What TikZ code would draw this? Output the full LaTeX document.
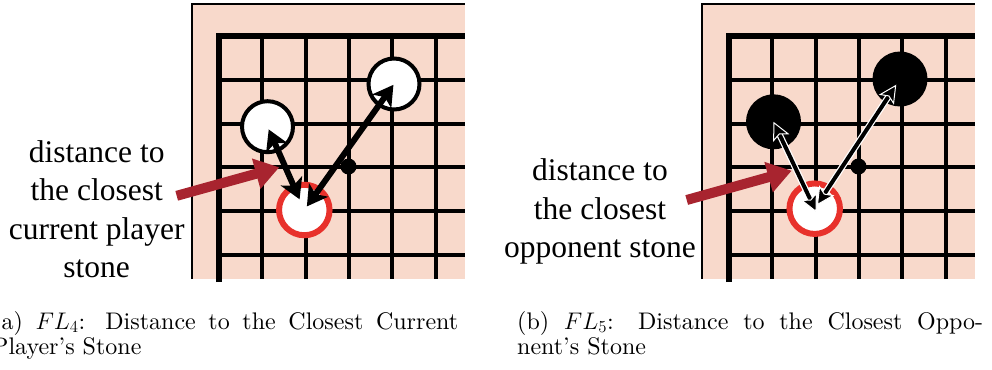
\RequirePackage{fix-cm}
\documentclass[tikz,border=0pt]{standalone}
\usepackage{fontspec}
\newfontfamily\labelfont{Liberation Serif}
\newfontfamily\capfont{lmroman10-regular.otf}[Ligatures=TeX]
\usepackage{tikz}
\usetikzlibrary{arrows.meta,calc}
\definecolor{boardpeach}{HTML}{F8D9CB}
\definecolor{ringred}{HTML}{E8312B}
\definecolor{pointred}{HTML}{A8242F}
\tikzset{
  go/board/.style={fill=boardpeach, draw=none},
  go/edge/.style={line width=1.5pt},
  go/border/.style={line width=6pt, line join=miter},
  go/line/.style={line width=4pt},
  go/white/.style={circle, draw, fill=white, line width=4pt, minimum size=51pt, inner sep=0pt},
  go/black/.style={circle, fill=black, minimum size=55pt, inner sep=0pt},
  go/current/.style={circle, draw=ringred, fill=white, line width=6pt, minimum size=50.5pt, inner sep=0pt},
  go/hoshi/.style={circle, fill=black, minimum size=16pt, inner sep=0pt},
  dist/.style={{Stealth[length=20pt,width=23pt,inset=5pt]}-{Stealth[length=20pt,width=23pt,inset=5pt]}, line width=6pt},
  dist/thin/.style={{Stealth[length=18pt,width=18pt,inset=4pt,color=white,fill=black,line width=1pt]}-{Stealth[length=18pt,width=18pt,inset=4pt,color=white,fill=black,line width=1pt]}, line width=4pt},
  dist/halo/.style 2 args={preaction={draw=white, line width=6.5pt, arrows=-, shorten <=#1, shorten >=#2}},
  pointer/.style={-{Triangle[length=24pt,width=30pt]}, line width=10pt, draw=pointred},
  lbl/.style={font=\labelfont\fontsize{31.5}{38.3}\selectfont, align=center, inner sep=0pt},
  subcap/.style={font=\capfont\fontsize{24}{25}\selectfont, inner sep=0pt, anchor=base west, text width=466pt, align=justify}
}

\begin{document}
\begin{tikzpicture}[x=1pt, y=-1pt]
  \useasboundingbox (0,0) rectangle (992,369);

  % the two board corners
  \foreach \dx in {0,510} {
    \fill[go/board] (192+\dx,4) rectangle (465+\dx,279);
    \draw[go/edge] (192+\dx,279) -- (192+\dx,4) -- (465+\dx,4);
    \foreach \k in {1,...,5} {
      \draw[go/line] ({219+43.3*\k+\dx},36) -- ({219+43.3*\k+\dx},279);
      \draw[go/line] (219+\dx,{36+43.8*\k}) -- (465+\dx,{36+43.8*\k});
    }
    \draw[go/border] (219+\dx,282) -- (219+\dx,36) -- (465+\dx,36);
    \node[go/hoshi] (hoshi\dx) at (348.5+\dx,166.5) {};
  }

  % (a) current player stones
  \node[go/white] (wa1) at (267.5,126.7) {};
  \node[go/white] (wa2) at (394,84) {};
  \node[go/current] (ca) at (304.3,210) {};
  \draw[dist, shorten <=3pt, shorten >=11.7pt] (wa1.center) -- (ca.center);
  \draw[dist, shorten <=1pt, shorten >=4.4pt] (wa2.center) -- (ca.center);

  % (b) opponent stones
  \node[go/black] (bb1) at (773.5,121.8) {};
  \node[go/black] (bb2) at (900,79) {};
  \node[go/current] (cb) at (814.7,208.7) {};
  \draw[dist/thin, dist/halo={12pt}{8pt}, shorten <=0pt, shorten >=-4pt] (bb1.center) -- (cb.center);
  \draw[dist/thin, dist/halo={18pt}{15pt}, shorten <=6.8pt, shorten >=4pt] (bb2.center) -- (cb.center);

  % labels and pointers
  \node[lbl, anchor=base] (lbla) at (96.7,277.3) {distance to\\the closest\\current player\\stone};
  \node[lbl, anchor=base] (lblb) at (600,257.3) {distance to\\the closest\\opponent stone};
  \coordinate (pa) at (176.7,195.8);
  \coordinate (pa-tip) at (279.3,167.3);
  \coordinate (pb) at (686.7,200);
  \coordinate (pb-tip) at (791.7,170.7);
  \draw[pointer] (pa) -- (pa-tip);
  \draw[pointer] (pb) -- (pb-tip);

  % captions
  \node[subcap] (capa) at (-8,329) {(a) $FL_4$: Distance to the Closest Current\linebreak Player's Stone};
  \node[subcap] (capb) at (517,329) {(b) $FL_5$: Distance to the Closest Oppo-\linebreak nent's Stone};
\end{tikzpicture}
\end{document}
